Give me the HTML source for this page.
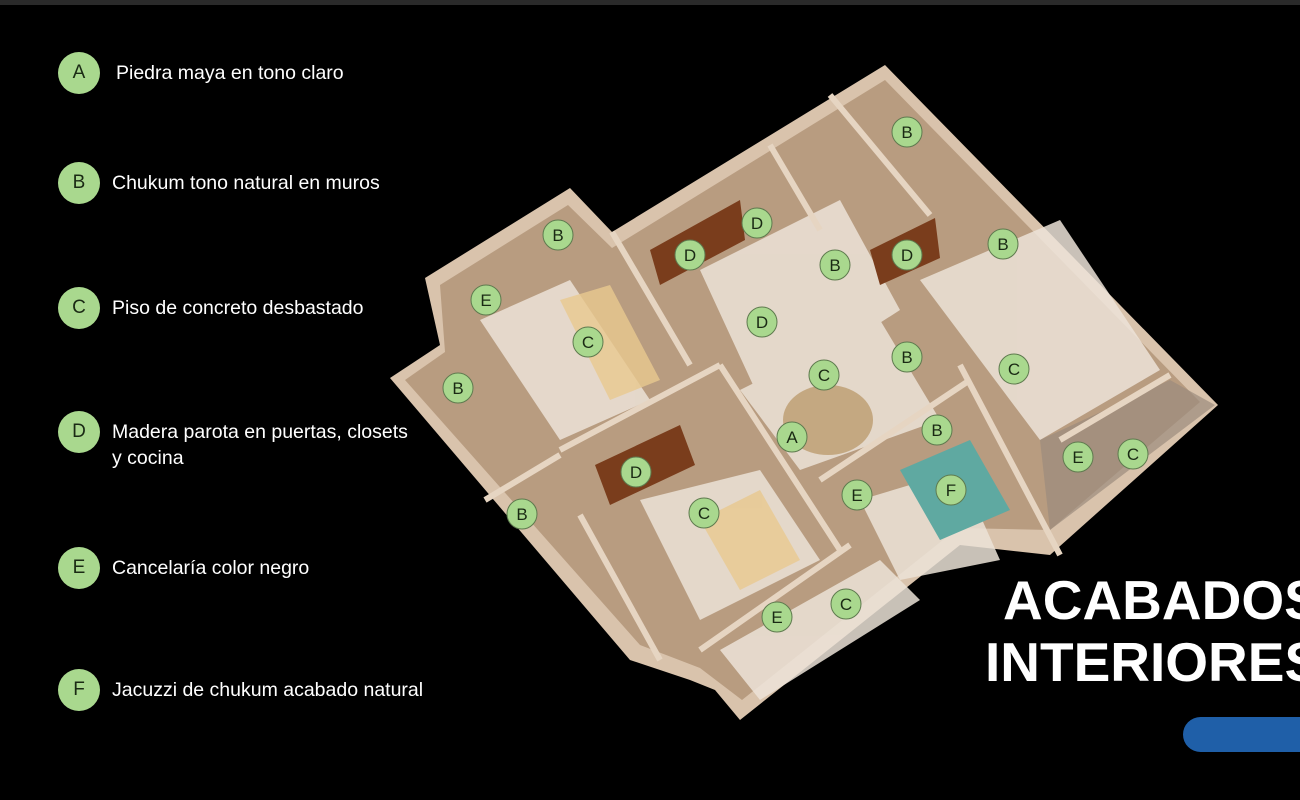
<!DOCTYPE html>
<html><head><meta charset="utf-8"><style>
html,body{margin:0;padding:0;background:#000;}
body{width:1300px;height:800px;position:relative;overflow:hidden;font-family:"Liberation Sans",sans-serif;}
.leg{position:absolute;left:58px;display:flex;align-items:center;color:#fff;font-size:19.5px;}
.c{width:42px;height:42px;border-radius:50%;background:#a9d88e;color:#1a2a14;font-size:19px;display:flex;align-items:center;justify-content:center;margin-right:12px;flex:none;}
.t{position:absolute;color:#fff;font-weight:bold;font-size:55px;white-space:nowrap;}
</style></head><body>
<div style="position:absolute;left:0;top:0;width:1300px;height:5px;background:#2a2a2a"></div>
<div class="leg" style="top:52px"><div class="c">A</div><span style="margin-left:4px">Piedra maya en tono claro</span></div>
<div class="leg" style="top:162px"><div class="c">B</div>Chukum tono natural en muros</div>
<div class="leg" style="top:287px"><div class="c">C</div>Piso de concreto desbastado</div>
<div class="leg" style="top:411px;align-items:flex-start"><div class="c">D</div><span style="margin-top:8px;line-height:26px">Madera parota en puertas, closets<br>y cocina</span></div>
<div class="leg" style="top:547px"><div class="c">E</div>Cancelaría color negro</div>
<div class="leg" style="top:669px"><div class="c">F</div>Jacuzzi de chukum acabado natural</div>

<svg style="position:absolute;left:0;top:0" width="1300" height="800">
<polygon points="885,65 1218,405 1050,555 960,545 740,720 715,690 690,680 630,660 390,378 440,345 425,278 570,188 612,232" fill="#d9c3ac"/>
<polygon points="885,80 1200,402 1050,530 958,528 742,700 700,668 640,645 405,380 445,352 440,285 568,205 612,248" fill="#b89c80"/>
<g fill="#ece3d8" opacity="0.85">
<polygon points="700,270 840,200 900,310 760,400"/>
<polygon points="740,390 880,320 940,420 800,470"/>
<polygon points="920,280 1060,220 1160,370 1040,440"/>
<polygon points="480,320 570,280 650,400 560,440"/>
<polygon points="640,500 760,470 820,560 700,620"/>
<polygon points="860,500 960,470 1000,560 900,580"/>
<polygon points="720,650 880,560 920,600 760,700"/>
</g>
<g fill="#e8c98f" opacity="0.8">
<polygon points="560,300 610,285 660,380 610,400"/>
<polygon points="700,520 760,490 800,560 740,590"/>
</g>
<ellipse cx="828" cy="420" rx="45" ry="35" fill="#c4a881"/>
<polygon points="900,470 970,440 1010,510 940,540" fill="#5fa9a1"/>
<polygon points="1040,440 1170,380 1215,405 1050,530" fill="#9b8b7e" opacity="0.7"/>
<g fill="#7a3d1c">
<polygon points="595,465 680,425 695,465 610,505"/>
<polygon points="870,250 935,218 940,258 880,285"/>
<polygon points="650,250 740,200 745,240 660,285"/>
</g>
<g stroke="#e6d5c2" stroke-width="6" fill="none">
<line x1="612" y1="232" x2="690" y2="365"/>
<line x1="770" y1="145" x2="820" y2="230"/>
<line x1="830" y1="95" x2="930" y2="215"/>
<line x1="560" y1="450" x2="720" y2="365"/>
<line x1="485" y1="500" x2="560" y2="455"/>
<line x1="720" y1="365" x2="840" y2="550"/>
<line x1="960" y1="365" x2="1060" y2="555"/>
<line x1="820" y1="480" x2="970" y2="380"/>
<line x1="1060" y1="440" x2="1170" y2="375"/>
<line x1="580" y1="515" x2="660" y2="660"/>
<line x1="700" y1="650" x2="850" y2="545"/>
</g>
<g font-family="Liberation Sans,sans-serif" font-size="17" text-anchor="middle" fill="#1a2a14">
<g fill="#a9d88e" stroke="#5e7a4e" stroke-width="1">
<circle cx="907" cy="132" r="15"/><circle cx="558" cy="235" r="15"/><circle cx="757" cy="223" r="15"/><circle cx="690" cy="255" r="15"/><circle cx="835" cy="265" r="15"/><circle cx="907" cy="255" r="15"/><circle cx="1003" cy="244" r="15"/><circle cx="486" cy="300" r="15"/><circle cx="762" cy="322" r="15"/><circle cx="588" cy="342" r="15"/><circle cx="458" cy="388" r="15"/><circle cx="824" cy="375" r="15"/><circle cx="907" cy="357" r="15"/><circle cx="1014" cy="369" r="15"/><circle cx="792" cy="437" r="15"/><circle cx="937" cy="430" r="15"/><circle cx="1078" cy="457" r="15"/><circle cx="1133" cy="454" r="15"/><circle cx="636" cy="472" r="15"/><circle cx="857" cy="495" r="15"/><circle cx="951" cy="490" r="15"/><circle cx="522" cy="514" r="15"/><circle cx="704" cy="513" r="15"/><circle cx="777" cy="617" r="15"/><circle cx="846" cy="604" r="15"/>
</g>
<text x="907" y="138">B</text><text x="558" y="241">B</text><text x="757" y="229">D</text><text x="690" y="261">D</text><text x="835" y="271">B</text><text x="907" y="261">D</text><text x="1003" y="250">B</text><text x="486" y="306">E</text><text x="762" y="328">D</text><text x="588" y="348">C</text><text x="458" y="394">B</text><text x="824" y="381">C</text><text x="907" y="363">B</text><text x="1014" y="375">C</text><text x="792" y="443">A</text><text x="937" y="436">B</text><text x="1078" y="463">E</text><text x="1133" y="460">C</text><text x="636" y="478">D</text><text x="857" y="501">E</text><text x="951" y="496">F</text><text x="522" y="520">B</text><text x="704" y="519">C</text><text x="777" y="623">E</text><text x="846" y="610">C</text>
</g>
</svg>
<div class="t" style="left:1003px;top:568px">ACABADOS</div>
<div class="t" style="left:985px;top:630px">INTERIORES</div>
<div style="position:absolute;left:1183px;top:717px;width:160px;height:35px;border-radius:18px;background:#1f5fa8"></div>
</body></html>
